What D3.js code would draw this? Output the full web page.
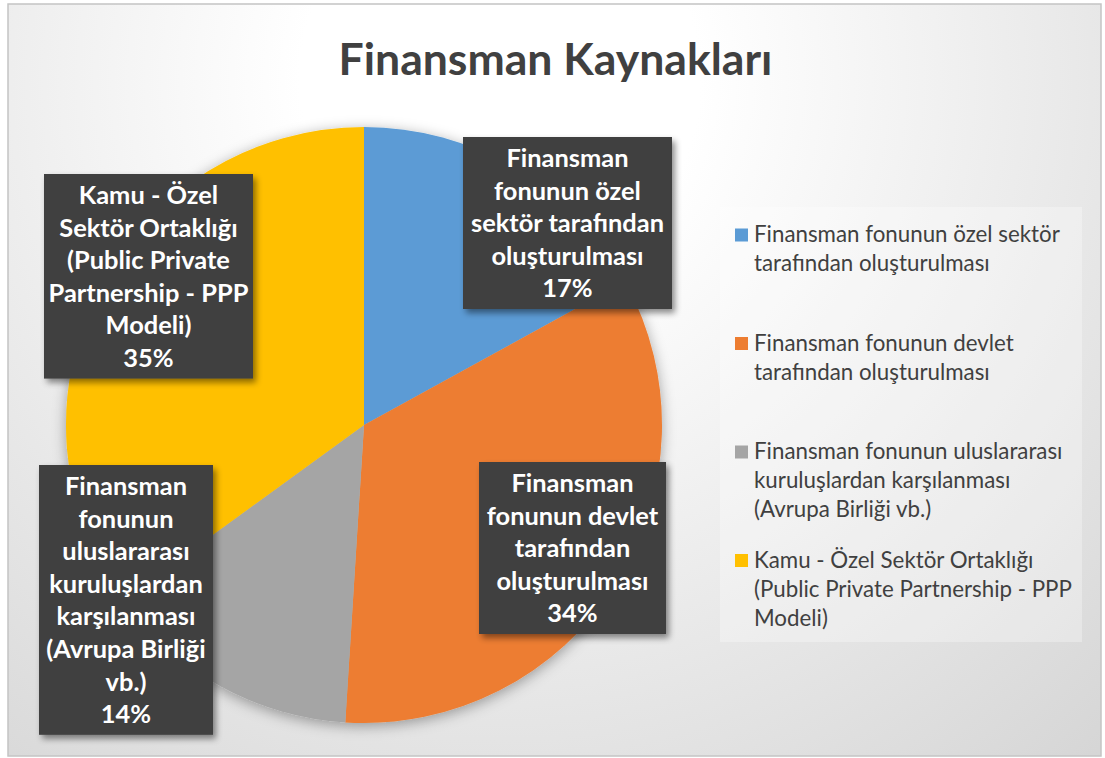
<!DOCTYPE html>
<html><head><meta charset="utf-8">
<script src="https://cdn.jsdelivr.net/npm/d3@7"></script>
<style>html,body{margin:0;padding:0;background:#fff;} svg{display:block;}</style>
</head><body>
<svg id="c" width="1105" height="758"></svg>
<script>
// ---------- data ----------
const title = "Finansman Kaynakları";
const categories = [
  "Finansman fonunun özel sektör tarafından oluşturulması",
  "Finansman fonunun devlet tarafından oluşturulması",
  "Finansman fonunun uluslararası kuruluşlardan karşılanması (Avrupa Birliği vb.)",
  "Kamu - Özel Sektör Ortaklığı (Public Private Partnership - PPP Modeli)"
];
const values = [17, 34, 14, 35];
const colors = ["#5B9BD5", "#ED7D31", "#A5A5A5", "#FFC000"];
const labelLines = [
  ["Finansman", "fonunun özel", "sektör tarafından", "oluşturulması"],
  ["Finansman", "fonunun devlet", "tarafından", "oluşturulması"],
  ["Finansman", "fonunun", "uluslararası", "kuruluşlardan", "karşılanması", "(Avrupa Birliği", "vb.)"],
  ["Kamu - Özel", "Sektör Ortaklığı", "(Public Private", "Partnership - PPP", "Modeli)"]
];
const legendLines = [
  ["Finansman fonunun özel sektör", "tarafından oluşturulması"],
  ["Finansman fonunun devlet", "tarafından oluşturulması"],
  ["Finansman fonunun uluslararası", "kuruluşlardan karşılanması", "(Avrupa Birliği vb.)"],
  ["Kamu - Özel Sektör Ortaklığı", "(Public Private Partnership - PPP", "Modeli)"]
];

// ---------- layout ----------
const W = 1105, H = 758;
const cx = 364, cy = 425, R = 298;
const labelBoxes = [
  {x: 463, y: 137, w: 209},
  {x: 479, y: 462, w: 187},
  {x: 39,  y: 465, w: 174},
  {x: 44,  y: 174, w: 209}
];
const FONT = "Lato, 'Open Sans', sans-serif";
const textColor = "#404040";

const svg = d3.select("#c");
const defs = svg.append("defs");

const bg = defs.append("radialGradient").attr("id", "bg")
  .attr("gradientUnits", "userSpaceOnUse")
  .attr("cx", 500).attr("cy", 80).attr("r", 1000);
bg.append("stop").attr("offset", 0.2).attr("stop-color", "#ffffff");
bg.append("stop").attr("offset", 1).attr("stop-color", "#d0d0d0");

const pieShadow = defs.append("filter").attr("id", "pieShadow")
  .attr("x", "-20%").attr("y", "-20%").attr("width", "140%").attr("height", "140%");
pieShadow.append("feDropShadow").attr("dx", 0).attr("dy", 3).attr("stdDeviation", 7)
  .attr("flood-color", "#000").attr("flood-opacity", 0.35);

const boxShadow = defs.append("filter").attr("id", "boxShadow")
  .attr("x", "-20%").attr("y", "-20%").attr("width", "140%").attr("height", "140%");
boxShadow.append("feDropShadow").attr("dx", 3).attr("dy", 4).attr("stdDeviation", 3)
  .attr("flood-color", "#000").attr("flood-opacity", 0.45);

// background + frame
svg.append("rect").attr("x", 0).attr("y", 0).attr("width", W).attr("height", H).attr("fill", "#ffffff");
svg.append("rect").attr("x", 8).attr("y", 4).attr("width", 1093).attr("height", 752)
  .attr("fill", "url(#bg)").attr("stroke", "#c4c4c4").attr("stroke-width", 1.5);

// helper: fit font size so that a reference string gets a target width
function fitSize(str, weight, target, base) {
  const t = svg.append("text").attr("font-family", FONT).attr("font-weight", weight)
    .attr("font-size", base).text(str);
  const w = t.node().getComputedTextLength();
  t.remove();
  return base * target / w;
}

// title
const titleSize = fitSize(title, 700, 434, 40);
svg.append("text").attr("x", 555.5).attr("y", 75)
  .attr("text-anchor", "middle").attr("font-family", FONT).attr("font-weight", 700)
  .attr("font-size", titleSize).attr("fill", textColor).text(title);

// pie
const pie = d3.pie().sort(null).value(d => d).startAngle(0).endAngle(2 * Math.PI);
const arc = d3.arc().innerRadius(0).outerRadius(R);
const arcs = pie(values);
const total = d3.sum(values);
const pct = d3.format(".0%");

svg.append("g").attr("transform", `translate(${cx},${cy})`).attr("filter", "url(#pieShadow)")
  .selectAll("path").data(arcs).join("path")
  .attr("d", arc).attr("fill", (d, i) => colors[i]);

// data labels
const labSize = fitSize("sektör tarafından", 700, 193, 20);
const lineH = 32.6;
const labels = svg.append("g");
arcs.forEach((a, i) => {
  const b = labelBoxes[i];
  const lines = labelLines[i].concat([pct(a.data / total)]);
  const h = lines.length * lineH + 9;
  const g = labels.append("g");
  g.append("rect").attr("x", b.x).attr("y", b.y).attr("width", b.w).attr("height", h)
    .attr("fill", "#404040").attr("filter", "url(#boxShadow)");
  g.selectAll("text").data(lines).join("text")
    .attr("x", b.x + b.w / 2).attr("y", (d, j) => b.y + 30 + j * lineH)
    .attr("text-anchor", "middle").attr("font-family", FONT).attr("font-weight", 700)
    .attr("font-size", labSize).attr("fill", "#ffffff").text(d => d);
});

// legend
svg.append("rect").attr("x", 720).attr("y", 207).attr("width", 362).attr("height", 435)
  .attr("fill", "#ffffff").attr("fill-opacity", 0.3);
const legSize = fitSize("Finansman fonunun özel sektör", 400, 306, 20);
const leg = svg.append("g");
categories.forEach((c, i) => {
  const base = 242 + i * 108.5;
  leg.append("rect").attr("x", 735).attr("y", base - 13.5).attr("width", 13).attr("height", 13)
    .attr("fill", colors[i]);
  leg.append("g").selectAll("text").data(legendLines[i]).join("text")
    .attr("x", 754).attr("y", (d, j) => base + j * 29)
    .attr("font-family", FONT).attr("font-size", legSize).attr("fill", textColor)
    .text(d => d);
});
</script>
</body></html>
